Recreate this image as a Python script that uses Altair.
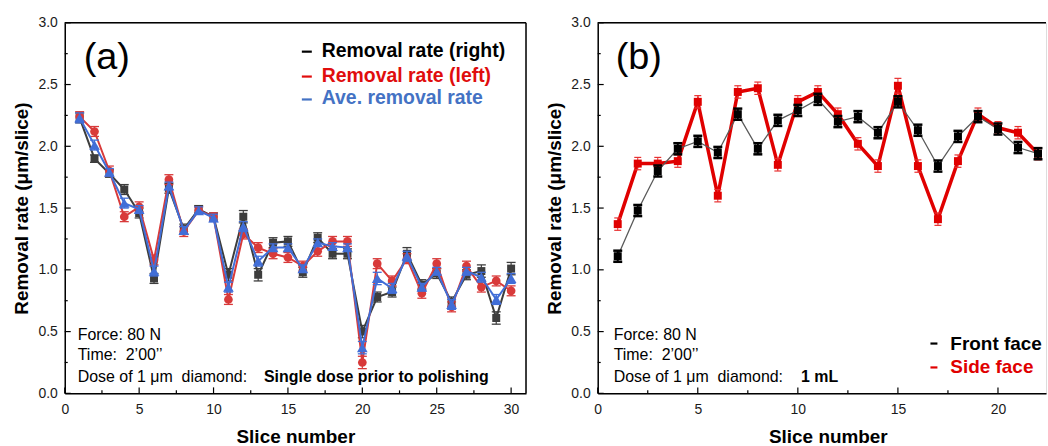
import altair as alt
import pandas as pd

# ---------------- data ----------------
slices_a = list(range(1, 31))
rate_right = [2.23, 1.90, 1.78, 1.65, 1.46, 0.93, 1.66, 1.33, 1.49, 1.43,
              0.96, 1.43, 0.96, 1.22, 1.23, 0.98, 1.26, 1.13, 1.13, 0.50,
              0.78, 0.82, 1.13, 0.88, 0.97, 0.74, 0.96, 0.99, 0.61, 1.01]
rate_left = [2.24, 2.12, 1.80, 1.43, 1.51, 1.08, 1.73, 1.31, 1.48, 1.43,
             0.76, 1.29, 1.18, 1.13, 1.10, 1.03, 1.15, 1.23, 1.23, 0.25,
             1.05, 0.91, 1.09, 0.81, 1.05, 0.70, 1.03, 0.86, 0.91, 0.83]
rate_ave = [2.23, 2.01, 1.79, 1.54, 1.49, 0.99, 1.68, 1.32, 1.48, 1.42,
            0.86, 1.35, 1.07, 1.18, 1.18, 1.01, 1.22, 1.19, 1.18, 0.37,
            0.93, 0.85, 1.11, 0.86, 0.99, 0.72, 0.99, 0.94, 0.76, 0.93]
err_right = [0.04, 0.03, 0.03, 0.04, 0.04, 0.04, 0.04, 0.04, 0.03, 0.03,
             0.05, 0.05, 0.05, 0.04, 0.04, 0.04, 0.04, 0.04, 0.04, 0.05,
             0.04, 0.04, 0.05, 0.04, 0.04, 0.04, 0.04, 0.05, 0.05, 0.05]
err_left = [0.04, 0.04, 0.04, 0.04, 0.04, 0.04, 0.04, 0.04, 0.03, 0.03,
            0.04, 0.04, 0.04, 0.04, 0.04, 0.04, 0.04, 0.04, 0.04, 0.05,
            0.04, 0.04, 0.04, 0.04, 0.04, 0.04, 0.04, 0.04, 0.04, 0.04]
err_ave = [0.04, 0.04, 0.03, 0.04, 0.03, 0.04, 0.03, 0.03, 0.03, 0.03,
           0.04, 0.04, 0.04, 0.03, 0.03, 0.03, 0.03, 0.03, 0.03, 0.05,
           0.05, 0.04, 0.04, 0.03, 0.03, 0.04, 0.03, 0.04, 0.04, 0.04]

slices_b = list(range(1, 23))
rate_front = [1.11, 1.48, 1.80, 1.98, 2.04, 1.95, 2.26, 1.98, 2.21, 2.29, 2.38,
              2.20, 2.24, 2.11, 2.36, 2.13, 1.84, 2.08, 2.24, 2.14, 1.99, 1.94]
rate_side = [1.37, 1.86, 1.86, 1.88, 2.36, 1.60, 2.44, 2.47, 1.85, 2.36, 2.44,
             2.26, 2.02, 1.84, 2.49, 1.84, 1.41, 1.88, 2.26, 2.15, 2.11, 1.94]
err_front = [0.045, 0.045, 0.045, 0.045, 0.045, 0.045, 0.045, 0.045, 0.045, 0.045, 0.045,
             0.045, 0.045, 0.045, 0.045, 0.045, 0.045, 0.045, 0.045, 0.045, 0.045, 0.045]
err_side = [0.05, 0.05, 0.05, 0.05, 0.05, 0.05, 0.05, 0.05, 0.05, 0.05, 0.05,
            0.05, 0.05, 0.05, 0.06, 0.05, 0.05, 0.05, 0.05, 0.05, 0.05, 0.05]

y_major = [0.0, 0.5, 1.0, 1.5, 2.0, 2.5, 3.0]
y_minor = [0.25, 0.75, 1.25, 1.75, 2.25, 2.75]
xa_major = [0, 5, 10, 15, 20, 25, 30]
xa_minor = [2.5, 7.5, 12.5, 17.5, 22.5, 27.5]
xb_major = [0, 5, 10, 15, 20]
xb_minor = [2.5, 7.5, 12.5, 17.5]

# ---------------- style ----------------
FONT = "Liberation Sans"
H = 372
W_A = 463
W_B = 450
ys = alt.Scale(domain=[0, 3], nice=False, zero=False)
xs_a = alt.Scale(domain=[0, 31], nice=False, zero=False)
xs_b = alt.Scale(domain=[0, 22.4], nice=False, zero=False)


def frame(xs, ys_, errs):
    return pd.DataFrame({
        "x": xs, "y": ys_,
        "lo": [v - e for v, e in zip(ys_, errs)],
        "hi": [v + e for v, e in zip(ys_, errs)],
    })


Y_AX = alt.Axis(values=y_major, format=".1f", ticks=False, grid=False,
                domainColor="black", domainWidth=1.5,
                labelFont=FONT, labelFontSize=14, labelColor="#1a1a1a",
                labelPadding=7.5, title="Removal rate (\u03bcm/slice)",
                titleFont=FONT, titleFontSize=19, titleFontWeight="bold",
                titleColor="black", titlePadding=6)


def x_axis(values, title_x=None):
    kw = dict(values=values, format="d", ticks=False, grid=False,
              domainColor="black", domainWidth=1.5,
              labelFont=FONT, labelFontSize=14, labelColor="#1a1a1a",
              labelPadding=9, labelFlush=False, labelOverlap=False,
              title="Slice number", titleFont=FONT, titleFontSize=19,
              titleFontWeight="bold", titleColor="black", titlePadding=11)
    if title_x is not None:
        kw["titleX"] = title_x
    return alt.Axis(**kw)


X_AX_A = x_axis(xa_major)
X_AX_B = x_axis(xb_major, title_x=231)


def series(df, xs, xax, color, shape, size, line_w, line_color, err_color,
           cap_size, cap_w, err_w):
    base = alt.Chart(df)
    x = alt.X("x:Q", scale=xs, axis=xax)
    line = base.mark_line(color=line_color, strokeWidth=line_w).encode(
        x=x, y=alt.Y("y:Q", scale=ys, axis=Y_AX))
    bar = base.mark_rule(color=err_color, strokeWidth=err_w).encode(
        x=x, y=alt.Y("lo:Q", scale=ys, axis=Y_AX), y2="hi:Q")
    cap_lo = base.mark_tick(orient="horizontal", color=err_color, size=cap_size,
                            thickness=cap_w, opacity=1).encode(
        x=x, y=alt.Y("lo:Q", scale=ys, axis=Y_AX))
    cap_hi = base.mark_tick(orient="horizontal", color=err_color, size=cap_size,
                            thickness=cap_w, opacity=1).encode(
        x=x, y=alt.Y("hi:Q", scale=ys, axis=Y_AX))
    pts = base.mark_point(shape=shape, filled=True, size=size, color=color,
                          opacity=1, strokeWidth=0).encode(
        x=x, y=alt.Y("y:Q", scale=ys, axis=Y_AX))
    return [line, bar, cap_lo, cap_hi, pts]


one = pd.DataFrame({"d": [0]})


def txt(x, y, s, size=16, weight="normal", color="black", clip=False):
    return alt.Chart(one).mark_text(text=s, align="left", baseline="middle",
                                    font=FONT, fontSize=size, fontWeight=weight,
                                    color=color, clip=clip).encode(
        x=alt.value(x), y=alt.value(y))


def dash(x1, x2, y, color, clip=False):
    return alt.Chart(one).mark_rule(color=color, strokeWidth=2.2, clip=clip).encode(
        x=alt.value(x1), x2=alt.value(x2), y=alt.value(y))


def ticks(xs, xax, xmaj, xmin):
    out = []
    out.append(alt.Chart(pd.DataFrame({"x": xmaj})).mark_rule(color="black", strokeWidth=1.2).encode(
        x=alt.X("x:Q", scale=xs, axis=xax), y=alt.value(H), y2=alt.value(H - 6)))
    out.append(alt.Chart(pd.DataFrame({"x": xmin})).mark_rule(color="black", strokeWidth=1.2).encode(
        x=alt.X("x:Q", scale=xs, axis=xax), y=alt.value(H), y2=alt.value(H - 3)))
    out.append(alt.Chart(pd.DataFrame({"y": y_major})).mark_rule(color="black", strokeWidth=1.2).encode(
        y=alt.Y("y:Q", scale=ys, axis=Y_AX), x=alt.value(0), x2=alt.value(6)))
    out.append(alt.Chart(pd.DataFrame({"y": y_minor})).mark_rule(color="black", strokeWidth=1.2).encode(
        y=alt.Y("y:Q", scale=ys, axis=Y_AX), x=alt.value(0), x2=alt.value(3)))
    return out


# ---------------- panel (a) ----------------
GRAY = "#3d3d3d"
RED_A = "#d83a3a"
BLUE_A = "#416ed7"

df_r = frame(slices_a, rate_right, err_right)
df_l = frame(slices_a, rate_left, err_left)
df_v = frame(slices_a, rate_ave, err_ave)

layers_a = []
layers_a += series(df_r, xs_a, X_AX_A, GRAY, "square", 64, 2, GRAY, GRAY, 9, 1.3, 1.2)
layers_a += series(df_l, xs_a, X_AX_A, RED_A, "circle", 76, 2, RED_A, RED_A, 9, 1.3, 1.2)
layers_a += series(df_v, xs_a, X_AX_A, BLUE_A, "triangle-up", 115, 2, BLUE_A, BLUE_A, 9, 1.3, 1.2)
layers_a += ticks(xs_a, X_AX_A, xa_major, xa_minor)
layers_a += [
    alt.Chart(one).mark_rule(color="black", strokeWidth=1.5).encode(
        x=alt.value(0), x2=alt.value(W_A), y=alt.value(0)),
    alt.Chart(one).mark_rule(color="black", strokeWidth=1.5).encode(
        x=alt.value(W_A), y=alt.value(0), y2=alt.value(H)),
    txt(19, 35, "(a)", size=38),
    dash(238, 248, 29, "black"),
    txt(258, 28, "Removal rate (right)", size=19.5, weight="bold", color="black"),
    dash(238, 248, 54, "#e00d0d"),
    txt(258, 53, "Removal rate (left)", size=19.5, weight="bold", color="#e00d0d"),
    dash(238, 248, 77, "#4472c4"),
    txt(258, 76, "Ave. removal rate", size=19.5, weight="bold", color="#4472c4"),
    txt(13, 313, "Force: 80 N"),
    txt(13, 334, "Time:\u00a0 2\u201900\u2019\u2019"),
    txt(13, 356, "Dose of 1 \u03bcm\u00a0 diamond:"),
    txt(200, 356, "Single dose prior to polishing", weight="bold"),
]
panel_a = alt.layer(*layers_a).properties(width=W_A, height=H)

# ---------------- panel (b) ----------------
RED_B = "#e00000"
df_f = frame(slices_b, rate_front, err_front)
df_s = frame(slices_b, rate_side, err_side)

layers_b = []
layers_b += series(df_s, xs_b, X_AX_B, RED_B, "square", 64, 3.5, RED_B, "#e83030", 7, 1.2, 1.0)
layers_b += series(df_f, xs_b, X_AX_B, "black", "square", 64, 1.3, "#5a5a5a", "black", 9, 2.5, 2.0)
layers_b += ticks(xs_b, X_AX_B, xb_major, xb_minor)
layers_b += [
    alt.Chart(one).mark_rule(color="black", strokeWidth=1.5).encode(
        x=alt.value(0), x2=alt.value(W_B), y=alt.value(0)),
    txt(18, 35, "(b)", size=38),
    txt(16, 313, "Force: 80 N"),
    txt(16, 334, "Time:\u00a0 2\u201900\u2019\u2019"),
    txt(16, 356, "Dose of 1 \u03bcm\u00a0 diamond:"),
    txt(204, 356, "1 mL", weight="bold"),
    dash(334, 341, 322, "black"),
    txt(354, 322, "Front face", size=19, weight="bold", color="black"),
    dash(334, 341, 346, RED_B),
    txt(354, 346, "Side face", size=19, weight="bold", color=RED_B),
]
panel_b = alt.layer(*layers_b).properties(width=W_B, height=H)

chart = alt.hconcat(panel_a, panel_b, spacing=17).properties(
    padding={"left": 12, "top": 14, "right": 0, "bottom": 0}
).configure_view(stroke=None).configure(font=FONT, background="white")

chart.save("out.html", embed_options={"renderer": "svg", "actions": False})
